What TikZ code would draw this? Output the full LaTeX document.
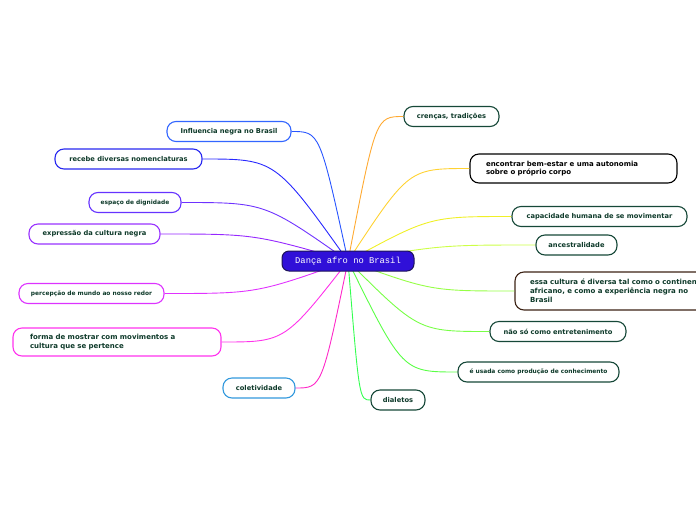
\documentclass[tikz,border=0pt]{standalone}
\usepackage{fontspec}
\usepackage{tikz}
\usetikzlibrary{calc}
\newfontfamily\topicfont{DejaVu Sans}
\newfontfamily\rootfont{Liberation Mono}
\definecolor{txtgreen}{RGB}{14,58,42}
\definecolor{rootfill}{RGB}{48,16,216}
\definecolor{rootline}{RGB}{30,20,90}
\definecolor{darkgreen}{RGB}{22,72,56}
\definecolor{darkbrown}{RGB}{60,34,20}
\tikzstyle{root} = [rectangle, rounded corners=7pt, minimum width=132pt, minimum height=20pt, text centered, draw=rootline, line width=1pt, fill=rootfill, text=white, font=\rootfont\fontsize{8.8pt}{10pt}\selectfont]
\tikzstyle{topic} = [rectangle, rounded corners=9pt, minimum height=20pt, text centered, line width=1.1pt, fill=white, text=txtgreen, font=\topicfont\bfseries\fontsize{6.7pt}{8.5pt}\selectfont]
\tikzstyle{small} = [font=\topicfont\bfseries\fontsize{5.9pt}{7pt}\selectfont]
\tikzstyle{long} = [align=left, font=\topicfont\bfseries\fontsize{7pt}{8.8pt}\selectfont]
\tikzstyle{branch} = [line width=0.9pt]

\begin{document}
\begin{tikzpicture}[x=1pt, y=-1pt]
		\useasboundingbox (0,0) rectangle (696,520);
		\clip (0,0) rectangle (696,520);
		
		\coordinate (c) at (348,261);
		
		% left side
		\node (inf) [topic, draw={rgb,255:red,51;green,102;blue,255}, minimum width=124pt] at (229,131.5) {Influencia negra no Brasil};
		\node (nom) [topic, draw={rgb,255:red,40;green,40;blue,240}, minimum width=147pt] at (128.5,159) {recebe diversas nomenclaturas};
		\node (esp) [topic, small, draw={rgb,255:red,102;green,51;blue,255}, minimum width=92pt] at (135,202.5) {espaço de dignidade};
		\node (expr) [topic, draw={rgb,255:red,153;green,51;blue,255}, minimum width=131pt] at (94.5,234) {expressão da cultura negra};
		\node (perc) [topic, small, draw={rgb,255:red,221;green,51;blue,255}, minimum width=145pt] at (91.5,293.5) {percepção de mundo ao nosso redor};
		\node (forma) [topic, long, draw={rgb,255:red,255;green,51;blue,238}, minimum width=208pt, minimum height=28pt, text width=174pt] at (117,342) {forma de mostrar com movimentos a\\cultura que se pertence};
		\node (colet) [topic, draw={rgb,255:red,51;green,153;blue,221}, minimum width=72pt] at (259,388) {coletividade};
		
		% right side
		\node (cren) [topic, draw=darkgreen, minimum width=95pt] at (451.5,116.5) {crenças, tradições};
		\node (enc) [topic, long, draw=black, text=black, minimum width=207pt, minimum height=29pt, text width=175pt] at (573.5,168.5) {encontrar bem-estar e uma autonomia\\sobre o próprio corpo};
		\node (cap) [topic, draw=darkgreen, minimum width=175pt] at (599.5,216.5) {capacidade humana de se movimentar};
		\node (anc) [topic, draw=darkgreen, minimum width=81pt] at (576.5,245) {ancestralidade};
		\node (essa) [topic, long, draw=darkbrown, minimum width=235pt, minimum height=38pt, text width=205pt] at (632.5,291) {essa cultura é diversa tal como o continente\\africano, e como a experiência negra no\\Brasil};
		\node (nao) [topic, draw=darkgreen, minimum width=136pt] at (558,331.5) {não só como entretenimento};
		\node (usa) [topic, small, draw=darkgreen, minimum width=161pt] at (538.5,372) {é usada como produção de conhecimento};
		\node (dia) [topic, draw=darkgreen, minimum width=54pt] at (398,400) {dialetos};
		
		\draw [branch, draw={rgb,255:red,40;green,85;blue,255}] (inf.east) .. controls ($(inf.east)!0.5!(c |- inf.east)$) .. (c);
		\draw [branch, draw={rgb,255:red,40;green,40;blue,255}] (nom.east) .. controls ($(nom.east)!0.5!(c |- nom.east)$) .. (c);
		\draw [branch, draw={rgb,255:red,110;green,50;blue,255}] (esp.east) .. controls ($(esp.east)!0.5!(c |- esp.east)$) .. (c);
		\draw [branch, draw={rgb,255:red,150;green,40;blue,255}] (expr.east) .. controls ($(expr.east)!0.5!(c |- expr.east)$) .. (c);
		\draw [branch, draw={rgb,255:red,225;green,50;blue,255}] (perc.east) .. controls ($(perc.east)!0.5!(c |- perc.east)$) .. (c);
		\draw [branch, draw={rgb,255:red,255;green,50;blue,235}] (forma.east) .. controls ($(forma.east)!0.5!(c |- forma.east)$) .. (c);
		\draw [branch, draw={rgb,255:red,255;green,40;blue,200}] (colet.east) .. controls ($(colet.east)!0.5!(c |- colet.east)$) .. (c);
		\draw [branch, draw={rgb,255:red,255;green,170;blue,50}] (cren.west) .. controls ($(cren.west)!0.5!(c |- cren.west)$) .. (c);
		\draw [branch, draw={rgb,255:red,255;green,210;blue,50}] (enc.west) .. controls ($(enc.west)!0.5!(c |- enc.west)$) .. (c);
		\draw [branch, draw={rgb,255:red,240;green,240;blue,40}] (cap.west) .. controls ($(cap.west)!0.5!(c |- cap.west)$) .. (c);
		\draw [branch, draw={rgb,255:red,205;green,255;blue,70}] (anc.west) .. controls ($(anc.west)!0.5!(c |- anc.west)$) .. (c);
		\draw [branch, draw={rgb,255:red,150;green,255;blue,70}] (essa.west) .. controls ($(essa.west)!0.5!(c |- essa.west)$) .. (c);
		\draw [branch, draw={rgb,255:red,120;green,255;blue,70}] (nao.west) .. controls ($(nao.west)!0.5!(c |- nao.west)$) .. (c);
		\draw [branch, draw={rgb,255:red,90;green,255;blue,70}] (usa.west) .. controls ($(usa.west)!0.5!(c |- usa.west)$) .. (c);
		\draw [branch, draw={rgb,255:red,50;green,255;blue,80}] (dia.west) .. controls ($(dia.west)!0.5!(c |- dia.west)$) .. (c);
		
		\node (dab) [root] at (c) {Dança afro no Brasil};
		\end{tikzpicture}
\end{document}
